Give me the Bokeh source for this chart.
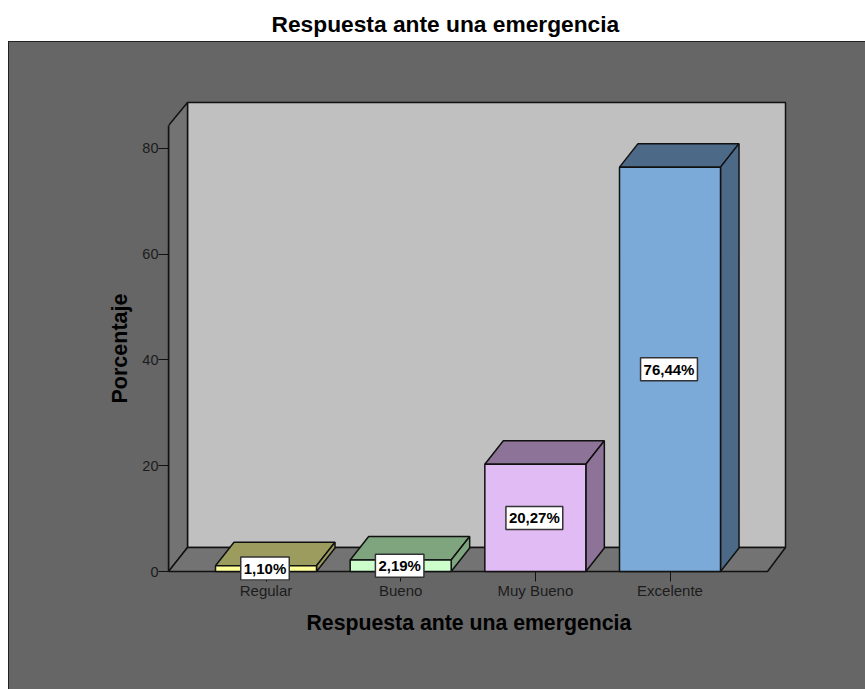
from bokeh.plotting import figure
from bokeh.layouts import column, row
from bokeh.models import Label, FixedTicker, Range1d, Spacer, Title
from bokeh.embed import file_html
from bokeh.resources import INLINE

categories = ["Regular", "Bueno", "Muy Bueno", "Excelente"]
values = [1.10, 2.19, 20.27, 76.44]
value_labels = ["1,10%", "2,19%", "20,27%", "76,44%"]
y_ticks = [0, 20, 40, 60, 80]
front_colors = ["#FFFF99", "#CCFFCC", "#E0BBF4", "#7BA9D8"]
shade_colors = ["#9C9C5E", "#7FA57F", "#8D7397", "#4C6A87"]

FONT = "Liberation Sans"
INK = "#111111"
PANEL = "#666666"
WALL = "#737373"
BACK = "#C0C0C0"
EDGE = "#222222"

# pixel geometry of the plot box -> data scale
PX_X = 134.67
PX_Y = 5.29
X0_PX = 265.5
Y0_PX = 571
FRAME_L, FRAME_R, FRAME_T, FRAME_B = 168, 787, 100, 580
PANEL_L, PANEL_T = 8, 41
DX = 18.5 / PX_X
DY = 23.5 / PX_Y
HALF = 0.375


def xd(px):
    return (px - X0_PX) / PX_X


def yd(px):
    return (Y0_PX - px) / PX_Y


head = figure(width=865, height=41, toolbar_location=None, output_backend="svg",
              min_border=0, border_fill_color="white", outline_line_color="white",
              background_fill_color="white",
              title="Respuesta ante una emergencia", title_location="below")
head.xaxis.visible = False
head.yaxis.visible = False
head.grid.visible = False
head.title.align = "left"
head.title.offset = 271
head.title.text_font = FONT
head.title.text_font_size = "22.75px"
head.title.text_color = "#000000"
head.title.text_font_style = "bold"
head.title.standoff = 10

p = figure(width=865 - PANEL_L, height=689 - PANEL_T, toolbar_location=None, output_backend="svg",
           x_range=Range1d(xd(FRAME_L), xd(FRAME_R)),
           y_range=Range1d(yd(FRAME_B), yd(FRAME_T)),
           min_border_left=FRAME_L - PANEL_L, min_border_right=865 - FRAME_R,
           min_border_top=FRAME_T - PANEL_T, min_border_bottom=689 - FRAME_B,
           border_fill_color=PANEL, background_fill_color=PANEL,
           outline_line_color=PANEL,
           styles={"margin-left": "-1px", "margin-top": "-1px"})
p.grid.visible = False

xl, xm, xr = xd(168), xd(187), xd(785)
xf = xd(767)
yb, ytf, ytb = yd(547), yd(125), yd(102)

p.quad(left=xm, right=xr, bottom=yb, top=ytb, fill_color=BACK, line_color=INK, line_width=1.5)
p.patch([xl, xm, xm, xl], [0, yb, ytb, ytf], fill_color=WALL, line_color=INK, line_width=1.5)
p.patch([xl, xm, xr, xf], [0, yb, yb, 0], fill_color=WALL, line_color=INK, line_width=1.5)

for i, v in enumerate(values):
    l, r = i - HALF, i + HALF
    p.patch([l, l + DX, r + DX, r], [v, v + DY, v + DY, v],
            fill_color=shade_colors[i], line_color=INK, line_width=1.5)
    p.patch([r, r + DX, r + DX, r], [0, DY, v + DY, v],
            fill_color=shade_colors[i], line_color=INK, line_width=1.5)
    p.quad(left=l, right=r, bottom=0, top=v,
           fill_color=front_colors[i], line_color=INK, line_width=1.5)

for i, v in enumerate(values):
    p.add_layout(Label(x=i, y=v / 2, x_offset=-1, text=value_labels[i], text_align="center",
                       text_baseline="middle", text_font=FONT, text_font_size="15px",
                       text_font_style="bold", text_color="#000000",
                       background_fill_color="white", border_line_color="#333333",
                       border_line_width=1.5, padding=3))

ax = p.yaxis[0]
ax.ticker = FixedTicker(ticks=y_ticks)
ax.bounds = (0, ytf)
ax.axis_line_color = INK
ax.axis_line_width = 1.5
ax.major_tick_line_color = INK
ax.major_tick_in = 0
ax.major_tick_out = 10
ax.minor_tick_line_color = None
ax.major_label_text_font = FONT
ax.major_label_text_font_size = "14.5px"
ax.major_label_text_color = "#1c1c1c"
ax.major_label_standoff = 0

bx = p.xaxis[0]
bx.ticker = FixedTicker(ticks=list(range(len(categories))))
bx.major_label_overrides = {i: c for i, c in enumerate(categories)}
bx.bounds = (xl, xf)
bx.axis_line_color = None
bx.major_tick_line_color = INK
bx.major_tick_in = 9
bx.major_tick_out = 1
bx.minor_tick_line_color = None
bx.major_label_text_font = FONT
bx.major_label_text_font_size = "15px"
bx.major_label_text_color = "#1c1c1c"
bx.major_label_standoff = 0

p.add_layout(Title(text="Respuesta ante una emergencia", align="left", offset=306 - FRAME_L,
                   text_font=FONT, text_font_size="21.25px", text_font_style="bold",
                   text_color="#000000", standoff=14), "below")
p.add_layout(Title(text="Porcentaje", align="left", offset=FRAME_B - 403,
                   text_font=FONT, text_font_size="21.5px", text_font_style="bold",
                   text_color="#000000", standoff=16), "left")

rule_style = {"background-color": EDGE, "position": "relative", "z-index": "10"}
top_rule = Spacer(width=865 - 8, height=1, margin=(0, 0, 0, 8), styles=rule_style)
left_pad = Spacer(width=8, height=689 - PANEL_T)
left_rule = Spacer(width=1, height=689 - PANEL_T, styles=rule_style)
page = column(head, top_rule, row(left_pad, left_rule, p, spacing=0), spacing=0)
open("out.html", "w").write(file_html(page, INLINE))
